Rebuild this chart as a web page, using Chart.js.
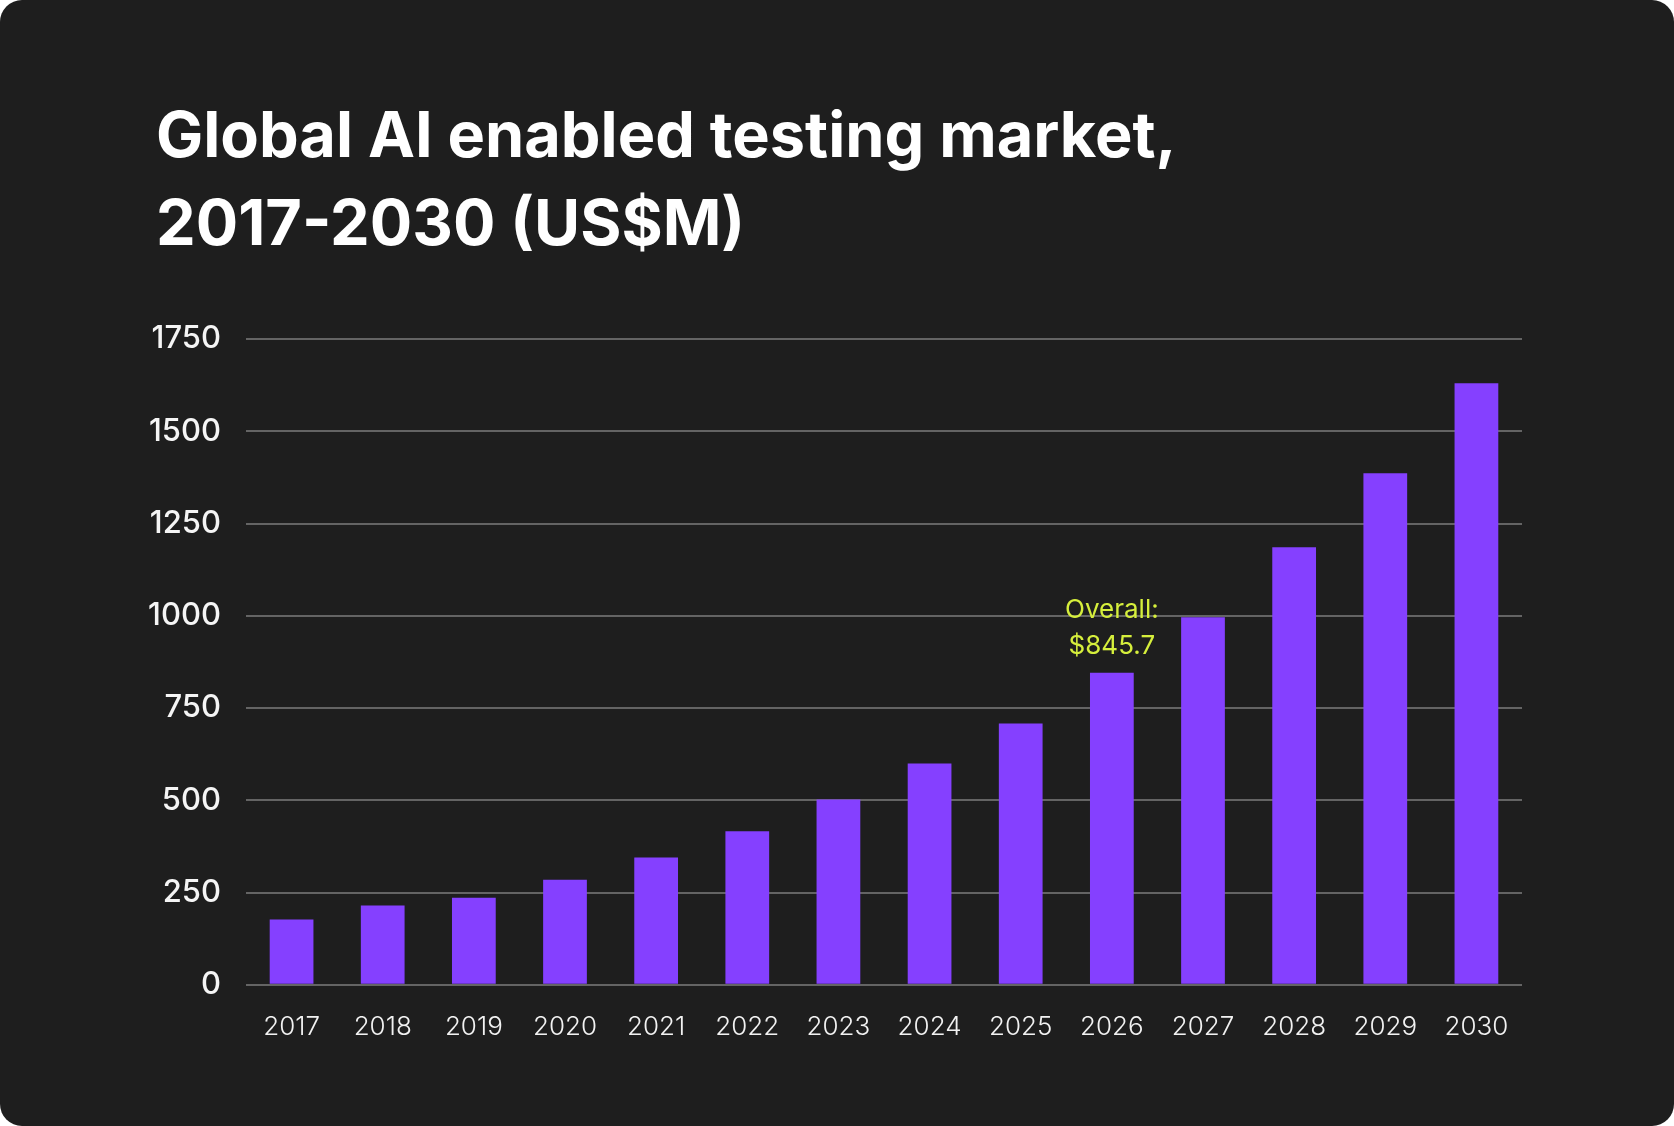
<!DOCTYPE html>
<html>
<head>
<meta charset="utf-8">
<script src="https://cdn.jsdelivr.net/npm/chart.js@4.4.1/dist/chart.umd.min.js"></script>
<style>
html, body { margin: 0; padding: 0; background: #ffffff; }
#card {
  position: relative;
  width: 1674px;
  height: 1126px;
  background: #1e1e1e;
  border-radius: 22px;
  overflow: hidden;
}
#title {
  position: absolute;
  left: 156px;
  top: 90px;
  margin: 0;
  color: #ffffff;
  font-family: Inter, "Noto Sans", sans-serif;
  font-weight: 700;
  font-size: 63px;
  line-height: 88px;
  letter-spacing: 0px;
}
#chart { position: absolute; left: 0; top: 0; }
</style>
</head>
<body>
<div id="card">
  <h1 id="title">Global AI enabled testing market,<br>2017-2030 (US$M)</h1>
  <canvas id="chart" width="1674" height="1126"></canvas>
</div>
<script>
// values (US$M)
var years = ['2017', '2018', '2019', '2020', '2021', '2022', '2023', '2024', '2025', '2026', '2027', '2028', '2029', '2030'];
var marketSize = [177, 215, 236, 285, 345, 416, 502, 600, 708, 845.7, 996, 1186, 1386, 1630];
var yTickValues = [0, 250, 500, 750, 1000, 1250, 1500, 1750];
var noteYear = '2026';
var noteLines = ['Overall:', '$845.7'];

// writes the "Overall" note above the chosen bar
const notePlugin = {
  id: 'note',
  afterDatasetsDraw(chart) {
    const idx = years.indexOf(noteYear);
    const bar = chart.getDatasetMeta(0).data[idx];
    const ctx = chart.ctx;
    ctx.save();
    ctx.fillStyle = '#d6ef3c';
    ctx.font = '400 26px Inter, sans-serif';
    ctx.textAlign = 'center';
    ctx.textBaseline = 'alphabetic';
    ctx.fillText(noteLines[1], bar.x, bar.y - 19);
    ctx.fillText(noteLines[0], bar.x, bar.y - 55);
    ctx.restore();
  }
};

const ctx = document.getElementById('chart').getContext('2d');
const myChart = new Chart(ctx, {
  type: 'bar',
  data: {
    labels: years,
    datasets: [{
      label: 'Market size',
      data: marketSize,
      backgroundColor: '#8540ff',
      borderWidth: 0,
      barPercentage: 0.48,
      categoryPercentage: 1
    }]
  },
  options: {
    responsive: false,
    animation: false,
    devicePixelRatio: 1,
    layout: {
      padding: { left: 100, right: 152, top: 339, bottom: 56 }
    },
    plugins: {
      legend: { display: false },
      tooltip: { enabled: false }
    },
    scales: {
      x: {
        grid: { display: false, drawTicks: false },
        border: { display: false },
        ticks: {
          color: '#f2f2f2',
          padding: 27,
          maxRotation: 0,
          font: { family: 'Inter', size: 26, weight: 300 }
        }
      },
      y: {
        min: 0,
        max: 1750,
        afterFit: s => { s.width = 146; },
        afterBuildTicks: s => { s.ticks = yTickValues.map(v => ({ value: v })); },
        grid: { color: '#646464', lineWidth: 2, drawTicks: false },
        border: { display: false },
        ticks: {
          color: '#f5f5f5',
          padding: 25,
          callback: v => String(v),
          font: { family: 'Inter', size: 31, weight: 500 }
        }
      }
    }
  },
  plugins: [notePlugin]
});
</script>
</body>
</html>
